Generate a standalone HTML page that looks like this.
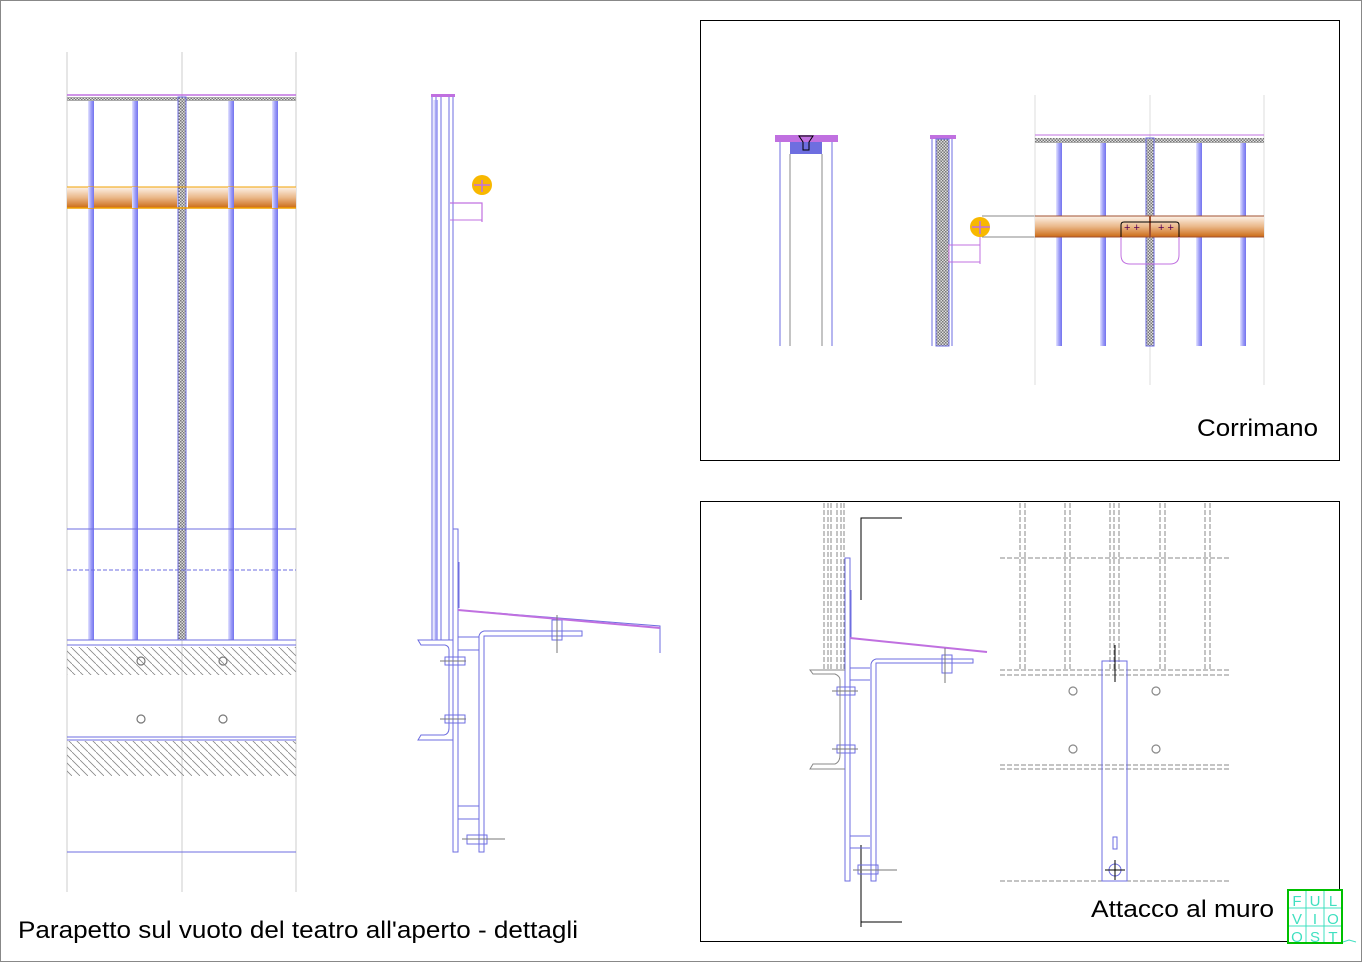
<!DOCTYPE html>
<html><head><meta charset="utf-8"><style>
html,body{margin:0;padding:0;background:#fff;width:1362px;height:962px;overflow:hidden}
svg{display:block}
text{font-family:"Liberation Sans",sans-serif}
</style></head><body>
<svg width="1362" height="962" viewBox="0 0 1362 962" xmlns="http://www.w3.org/2000/svg">
<defs>
<linearGradient id="bal" x1="0" x2="1" y1="0" y2="0"><stop offset="0" stop-color="#e4e4ff"/><stop offset="0.5" stop-color="#a0a0f8"/><stop offset="1" stop-color="#7272ee"/></linearGradient>
<linearGradient id="wood" x1="0" x2="0" y1="0" y2="1"><stop offset="0" stop-color="#fdf3ea"/><stop offset="0.5" stop-color="#eab88a"/><stop offset="1" stop-color="#cc6a14"/></linearGradient>
<pattern id="chk" width="3" height="3" patternUnits="userSpaceOnUse"><rect width="3" height="3" fill="#ddd"/><rect width="1.5" height="1.5" fill="#777"/><rect x="1.5" y="1.5" width="1.5" height="1.5" fill="#777"/></pattern>
<pattern id="diag" width="8" height="8" patternUnits="userSpaceOnUse"><path d="M0 0L8 8" stroke="#888" stroke-width="0.8"/></pattern>
</defs>
<rect x="0.5" y="0.5" width="1361" height="961" fill="none" stroke="#888"/>

<!-- LEFT ELEVATION -->
<g stroke="#ccc" stroke-width="1"><line x1="67" y1="52" x2="67" y2="892"/><line x1="182" y1="52" x2="182" y2="892"/><line x1="296" y1="52" x2="296" y2="892"/></g>
<line x1="67" y1="95" x2="296" y2="95" stroke="#c070e0" stroke-width="1.5"/>
<rect x="67" y="97" width="229" height="4" fill="url(#chk)"/>
<g fill="url(#bal)"><rect x="88" y="101" width="6" height="539"/><rect x="132" y="101" width="6" height="539"/><rect x="228" y="101" width="6" height="539"/><rect x="272" y="101" width="6" height="539"/></g>
<rect x="178" y="97" width="8" height="543" fill="url(#chk)" stroke="#6e6ee0" stroke-width="1"/>
<g><rect x="67" y="187" width="110" height="21" fill="url(#wood)"/><rect x="188" y="187" width="108" height="21" fill="url(#wood)"/>
<line x1="67" y1="187" x2="296" y2="187" stroke="#f0a000"/><line x1="67" y1="208" x2="296" y2="208" stroke="#f0a000" stroke-width="1.5"/></g>
<g fill="url(#bal)"><rect x="88" y="187" width="6" height="21"/><rect x="132" y="187" width="6" height="21"/><rect x="228" y="187" width="6" height="21"/><rect x="272" y="187" width="6" height="21"/></g>
<g stroke="#6e6ee0" stroke-width="1"><line x1="67" y1="529" x2="296" y2="529"/><line x1="67" y1="570" x2="296" y2="570" stroke-dasharray="4 2"/><line x1="67" y1="640" x2="296" y2="640"/><line x1="67" y1="645" x2="296" y2="645"/><line x1="67" y1="737" x2="296" y2="737"/><line x1="67" y1="740" x2="296" y2="740"/><line x1="67" y1="852" x2="296" y2="852"/></g>
<rect x="67" y="647" width="229" height="28" fill="url(#diag)"/>
<rect x="67" y="741" width="229" height="35" fill="url(#diag)"/>
<g fill="none" stroke="#777" stroke-width="1.2"><circle cx="141" cy="661" r="4"/><circle cx="223" cy="661" r="4"/><circle cx="141" cy="719" r="4"/><circle cx="223" cy="719" r="4"/></g>
<text x="18" y="938" font-size="24" fill="#000" textLength="560" lengthAdjust="spacingAndGlyphs">Parapetto sul vuoto del teatro all'aperto - dettagli</text>

<!-- MIDDLE SECTION -->
<g stroke="#6e6ee0" fill="none" stroke-width="1">
<line x1="432" y1="95" x2="432" y2="640"/><line x1="436" y1="95" x2="436" y2="640"/><line x1="441" y1="95" x2="441" y2="640"/><line x1="449" y1="95" x2="449" y2="640"/><line x1="453" y1="95" x2="453" y2="640"/>
<rect x="453" y="529" width="5" height="323"/>
<path d="M479 852V636Q480 632 484 631H582V636H484V852Z"/>
<line x1="458" y1="637" x2="479" y2="637"/><line x1="458" y1="650" x2="479" y2="650"/><line x1="458" y1="806" x2="479" y2="806"/><line x1="458" y1="819" x2="479" y2="819"/>
<path d="M453 640H418L421 645H445Q449 646 449 650V728Q449 734 444 735H421L418 740H453"/>
<path d="M458 608L458 610L660 626V653"/><path d="M459 562V608" />
<rect x="445" y="657" width="20" height="8"/><rect x="445" y="715" width="20" height="8"/><rect x="467" y="835" width="20" height="9"/>
<rect x="552" y="620" width="10" height="20"/>
</g>
<path d="M458 610L660 628" stroke="#c070e0" stroke-width="2"/>
<g stroke="#777"><line x1="440" y1="661" x2="466" y2="661"/><line x1="440" y1="719" x2="466" y2="719"/><line x1="462" y1="839" x2="505" y2="839"/><line x1="557" y1="615" x2="557" y2="653"/></g>
<rect x="431" y="94" width="24" height="3" fill="#c070e0"/>
<rect x="433" y="100" width="5" height="540" fill="url(#bal)" opacity="0.6"/>
<path d="M450 203H482V222" fill="none" stroke="#c070e0" stroke-width="1.2"/><line x1="450" y1="220" x2="482" y2="220" stroke="#c070e0"/>
<circle cx="482" cy="185" r="10" fill="#f8b800"/><path d="M474 185H490M482 180V192" stroke="#c070e0" stroke-width="1.5"/>

<!-- TOP RIGHT BOX -->
<rect x="700.5" y="20.5" width="639" height="440" fill="none" stroke="#000"/>
<rect x="775" y="135" width="63" height="7" fill="#c070e0"/>
<rect x="790" y="142" width="32" height="12" fill="#6e6ee0"/>
<path d="M799 136H813L809 142V150H803V142Z" fill="none" stroke="#000"/>
<g stroke="#6e6ee0"><line x1="780" y1="142" x2="780" y2="346"/><line x1="832" y1="142" x2="832" y2="346"/></g>
<g stroke="#888"><line x1="790" y1="154" x2="790" y2="346"/><line x1="822" y1="154" x2="822" y2="346"/></g>
<rect x="930" y="135" width="26" height="4" fill="#c070e0"/>
<rect x="936" y="139" width="13" height="207" fill="url(#chk)" stroke="#6e6ee0"/>
<line x1="932" y1="139" x2="932" y2="346" stroke="#6e6ee0"/><line x1="952" y1="139" x2="952" y2="346" stroke="#6e6ee0"/>
<rect x="949" y="245" width="31" height="17" fill="none" stroke="#c070e0"/><line x1="980" y1="228" x2="980" y2="264" stroke="#c070e0"/>
<g stroke="#888"><line x1="982" y1="216" x2="1036" y2="216"/><line x1="982" y1="237" x2="1036" y2="237"/></g>
<circle cx="980" cy="227" r="10" fill="#f8b800"/><path d="M972 227H990M980 221V234" stroke="#c070e0" stroke-width="1.5"/>
<g stroke="#ddd"><line x1="1035" y1="95" x2="1035" y2="385"/><line x1="1150" y1="95" x2="1150" y2="385"/><line x1="1264" y1="95" x2="1264" y2="385"/></g>
<line x1="1035" y1="135" x2="1264" y2="135" stroke="#c070e0"/>
<rect x="1035" y="138" width="229" height="5" fill="url(#chk)"/>
<g fill="url(#bal)"><rect x="1056" y="143" width="6" height="203"/><rect x="1100" y="143" width="6" height="203"/><rect x="1196" y="143" width="6" height="203"/><rect x="1240" y="143" width="6" height="203"/></g>
<rect x="1146" y="138" width="8" height="208" fill="url(#chk)" stroke="#6e6ee0"/>
<rect x="1035" y="216" width="229" height="21" fill="url(#wood)"/>
<line x1="1035" y1="216" x2="1264" y2="216" stroke="#a05030"/><line x1="1035" y1="237" x2="1264" y2="237" stroke="#a05030"/>
<line x1="1150" y1="216" x2="1150" y2="237" stroke="#a05030" stroke-width="2"/>
<path d="M1121 237V225Q1121 222 1124 222H1176Q1179 222 1179 225V237" fill="none" stroke="#000"/>
<path d="M1121 237V255Q1121 264 1130 264H1170Q1179 264 1179 255V237" fill="none" stroke="#c070e0"/>
<text x="1124" y="231" font-size="11" fill="#505">+ +</text><text x="1158" y="231" font-size="11" fill="#505">+ +</text>
<text x="1197" y="436" font-size="24" fill="#000" textLength="121" lengthAdjust="spacingAndGlyphs">Corrimano</text>

<!-- BOTTOM RIGHT BOX -->
<rect x="700.5" y="501.5" width="639" height="440" fill="none" stroke="#000"/>
<g stroke="#888" stroke-dasharray="5 2"><line x1="824" y1="503" x2="824" y2="670"/><line x1="828" y1="503" x2="828" y2="670"/><line x1="831" y1="503" x2="831" y2="670"/><line x1="837" y1="503" x2="837" y2="670"/><line x1="841" y1="503" x2="841" y2="670"/><line x1="844" y1="503" x2="844" y2="670"/></g>
<path d="M861 600V518H902M861 927V845M861 922H902" fill="none" stroke="#000"/>
<g stroke="#6e6ee0" fill="none">
<rect x="845" y="558" width="5" height="323"/>
<path d="M871 881V664Q872 660 876 659H973V663H876V881Z"/>
<line x1="850" y1="668" x2="870" y2="668"/><line x1="850" y1="680" x2="870" y2="680"/><line x1="850" y1="836" x2="870" y2="836"/><line x1="850" y1="848" x2="870" y2="848"/>
<rect x="837" y="687" width="18" height="8"/><rect x="837" y="745" width="18" height="8"/><rect x="858" y="865" width="20" height="9"/>
<rect x="942" y="655" width="10" height="18"/>
<line x1="851" y1="590" x2="851" y2="638"/>
</g>
<path d="M845 670H810L813 674H835Q840 676 840 680V755Q840 762 835 764H813L810 769H845" fill="none" stroke="#888"/>
<path d="M850 638L987 652" stroke="#c070e0" stroke-width="2"/>
<g stroke="#777"><line x1="832" y1="691" x2="858" y2="691"/><line x1="832" y1="749" x2="858" y2="749"/><line x1="853" y1="870" x2="897" y2="870"/><line x1="945" y1="648" x2="945" y2="683"/></g>
<g stroke="#888" stroke-dasharray="5 2">
<line x1="1020" y1="503" x2="1020" y2="670"/><line x1="1025" y1="503" x2="1025" y2="670"/><line x1="1065" y1="503" x2="1065" y2="670"/><line x1="1070" y1="503" x2="1070" y2="670"/>
<line x1="1110" y1="503" x2="1110" y2="670"/><line x1="1114" y1="503" x2="1114" y2="670"/><line x1="1119" y1="503" x2="1119" y2="670"/>
<line x1="1160" y1="503" x2="1160" y2="670"/><line x1="1165" y1="503" x2="1165" y2="670"/><line x1="1205" y1="503" x2="1205" y2="670"/><line x1="1210" y1="503" x2="1210" y2="670"/>
<line x1="1000" y1="558" x2="1230" y2="558"/><line x1="1000" y1="670" x2="1230" y2="670"/><line x1="1000" y1="675" x2="1230" y2="675"/>
<line x1="1000" y1="765" x2="1230" y2="765"/><line x1="1000" y1="769" x2="1230" y2="769"/><line x1="1000" y1="881" x2="1230" y2="881"/>
</g>
<rect x="1102" y="661" width="25" height="220" fill="none" stroke="#6e6ee0"/>
<rect x="1113" y="837" width="4" height="12" fill="none" stroke="#6e6ee0"/>
<circle cx="1115" cy="870" r="6" fill="none" stroke="#6e6ee0"/>
<path d="M1115 645V682M1105 870H1125M1115 860V880" stroke="#000"/>
<g fill="none" stroke="#888" stroke-width="1.2"><circle cx="1073" cy="691" r="4"/><circle cx="1156" cy="691" r="4"/><circle cx="1073" cy="749" r="4"/><circle cx="1156" cy="749" r="4"/></g>
<text x="1091" y="917" font-size="24" fill="#000" textLength="183" lengthAdjust="spacingAndGlyphs">Attacco al muro</text>

<!-- LOGO -->
<rect x="1288" y="890" width="54" height="53" fill="#fff" stroke="#00c000" stroke-width="2"/>
<g stroke="#40e0c0"><line x1="1306" y1="891" x2="1306" y2="942"/><line x1="1324" y1="891" x2="1324" y2="942"/><line x1="1289" y1="908" x2="1341" y2="908"/><line x1="1289" y1="926" x2="1341" y2="926"/></g>
<g font-size="15" fill="#40e0c0" text-anchor="middle"><text x="1297" y="906">F</text><text x="1315" y="906">U</text><text x="1333" y="906">L</text><text x="1297" y="924">V</text><text x="1315" y="924">I</text><text x="1333" y="924">O</text><text x="1297" y="942">O</text><text x="1315" y="942">S</text><text x="1333" y="942">T</text></g>
<path d="M1343 942L1349 940L1356 942" stroke="#40e0c0" fill="none"/>
</svg>
</body></html>
